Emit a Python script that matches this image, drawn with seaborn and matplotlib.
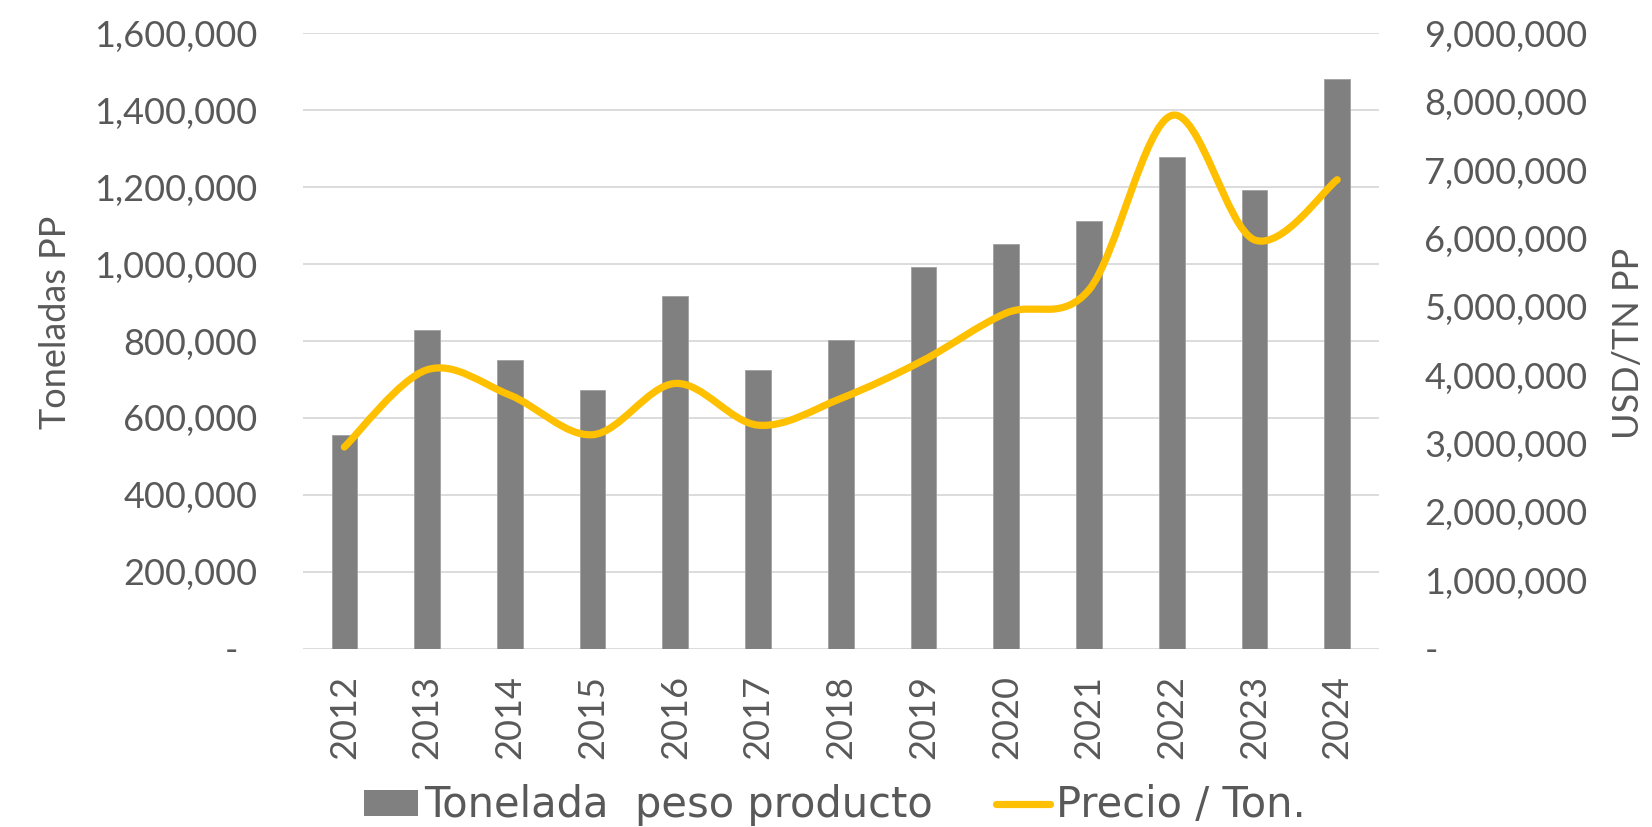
import numpy as np
import matplotlib
matplotlib.use("Agg")
import matplotlib.pyplot as plt
import seaborn as sns
from matplotlib.path import Path
from matplotlib.patches import PathPatch, Patch
from matplotlib.lines import Line2D
from matplotlib.ticker import FuncFormatter, MultipleLocator

# data
years = ["2012", "2013", "2014", "2015", "2016", "2017", "2018",
         "2019", "2020", "2021", "2022", "2023", "2024"]
toneladas = [555000, 830000, 752000, 672000, 916000, 726000, 803000,
             992000, 1052000, 1111000, 1279000, 1192000, 1482000]
precio = [2950000, 4080000, 3710000, 3130000, 3880000, 3270000, 3660000,
          4220000, 4910000, 5250000, 7800000, 5980000, 6860000]

BAR_GRAY = "#808080"
GOLD = "#FFC000"
TXT = "#595959"
GRID = "#D9D9D9"
FS = 26

sns.set_theme(style="white")
plt.rcParams["font.family"] = ["Lato", "DejaVu Sans"]


def smooth_path(xs, ys):
    # excel-style smoothed line: cubic bezier through each point
    pts = np.column_stack([xs, ys]).astype(float)
    n = len(pts)
    verts = [pts[0]]
    codes = [Path.MOVETO]
    for i in range(n - 1):
        p0 = pts[max(i - 1, 0)]
        p1 = pts[i]
        p2 = pts[i + 1]
        p3 = pts[min(i + 2, n - 1)]
        verts += [p1 + (p2 - p0) / 6, p2 - (p3 - p1) / 6, p2]
        codes += [Path.CURVE4] * 3
    return Path(verts, codes)


fig = plt.figure(figsize=(16.52, 8.27), dpi=100)
ax = fig.add_axes([0.1834, 0.2156, 0.6511, 0.7440])

sns.barplot(x=years, y=toneladas, color=BAR_GRAY, saturation=1, width=0.31,
            edgecolor="#A0A0A0", linewidth=0.6, ax=ax)
ax.set_xlim(-0.5, len(years) - 0.5)
ax.set_ylim(0, 1600000)
ax.yaxis.set_major_locator(MultipleLocator(200000))
ax.yaxis.grid(True, color=GRID, lw=1.3)
ax.set_axisbelow(True)
ax.yaxis.set_major_formatter(FuncFormatter(lambda v, p: "-  " if v == 0 else f"{v:,.0f}"))
ax.tick_params(axis="y", length=0, pad=33, labelsize=FS, labelcolor=TXT)
ax.tick_params(axis="x", length=0, pad=19, labelsize=FS, labelcolor=TXT, rotation=90)
ax.set_xlabel("")
ax.set_ylabel("Toneladas PP", fontsize=FS, color=TXT)
ax.yaxis.set_label_coords(-0.215, 0.531)

ax2 = ax.twinx()
ax2.set_ylim(0, 9000000)
ax2.yaxis.set_major_locator(MultipleLocator(1000000))
ax2.yaxis.set_major_formatter(FuncFormatter(lambda v, p: "-" if v == 0 else f"{v:,.0f}"))
ax2.tick_params(axis="y", length=0, pad=33, labelsize=FS, labelcolor=TXT)
ax2.add_patch(PathPatch(smooth_path(np.arange(len(years)), precio), fill=False,
                        edgecolor=GOLD, lw=5.2, capstyle="round", joinstyle="round"))
ax2.set_ylabel("USD/TN PP", fontsize=FS, color=TXT)
ax2.yaxis.set_label_coords(1.217, 0.496)

for a in (ax, ax2):
    for s in a.spines.values():
        s.set_visible(False)

handles = [Patch(facecolor=BAR_GRAY, edgecolor="none"),
           Line2D([], [], color=GOLD, lw=5.2, solid_capstyle="round")]
fig.legend(handles, ["Tonelada  peso producto", "Precio / Ton."],
           loc="center", bbox_to_anchor=(0.5054, 0.026), ncol=2, frameon=False,
           prop={"family": "DejaVu Sans", "size": 30}, labelcolor=TXT,
           handlelength=1.3, handleheight=0.6,
           handletextpad=0.15, columnspacing=1.5)

fig.savefig("out.png", dpi=100)
